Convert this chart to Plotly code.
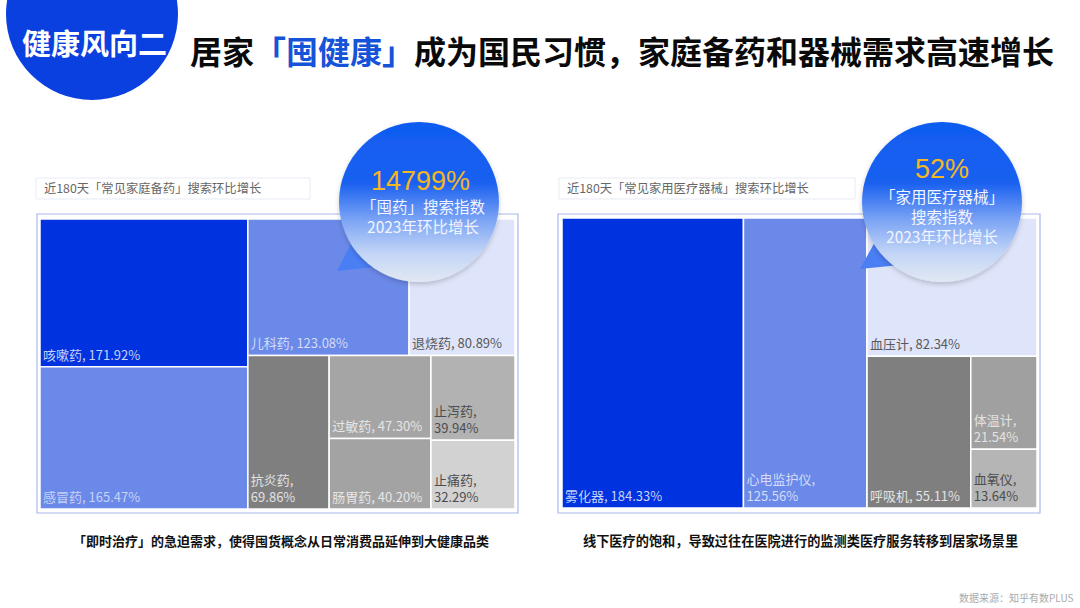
import base64
import plotly.graph_objects as go

W, H = 1080, 608
CJK = "Noto Sans CJK SC"

# left treemap
med_names = ["咳嗽药", "感冒药", "儿科药", "退烧药", "抗炎药", "过敏药", "肠胃药", "止泻药", "止痛药"]
med_values = [171.92, 165.47, 123.08, 80.89, 69.86, 47.30, 40.20, 39.94, 32.29]
med_wrap = [False, False, False, False, True, False, False, True, True]
med_colors = ["#0033df", "#6b89e8", "#6b89e8", "#dee4fa", "#7f7f7f", "#a5a5a5", "#a3a3a3", "#b2b2b2", "#d2d2d2"]
med_text_colors = ["#c6d2f6", "#c6d2f6", "#d3dcf8", "#595959", "#e2e2e2", "#e6e6e6", "#e6e6e6", "#4d4d4d", "#4d4d4d"]

# right treemap, the last four sit in one hidden group so the tiles stack like the original
dev_names = ["雾化器", "心电监护仪", "血压计", "呼吸机", "体温计", "血氧仪"]
dev_values = [184.33, 125.56, 82.34, 55.11, 21.54, 13.64]
dev_wrap = [False, True, False, False, True, True]
dev_parents = ["", "", "其他", "其他", "其他", "其他"]
dev_colors = ["#0033df", "#6b89e8", "#dee4fa", "#7f7f7f", "#a0a0a0", "#b5b5b5"]
dev_text_colors = ["#c6d2f6", "#d3dcf8", "#595959", "#e2e2e2", "#e2e2e2", "#4d4d4d"]


def px(x):
    return x / W


def py(y):
    return 1 - y / H


def cell_text(names, values, wrap):
    out = []
    for n, v, w in zip(names, values, wrap):
        out.append(f"{n},<br>{v:.2f}%" if w else f"{n}, {v:.2f}%")
    return out


def treemap(names, parents, values, text, colors, text_colors, x0, x1, y0, y1, sort=True):
    return go.Treemap(
        labels=names,
        parents=parents,
        values=values,
        branchvalues="total",
        text=text,
        textinfo="text",
        textposition="bottom left",
        sort=sort,
        marker=dict(colors=colors, line=dict(color="white", width=1.5),
                    pad=dict(t=0, l=0, r=0, b=0), depthfade=False),
        textfont=dict(family=CJK, size=13, color=text_colors),
        tiling=dict(packing="squarify", pad=0),
        pathbar=dict(visible=False),
        domain=dict(x=[px(x0), px(x1)], y=[py(y1), py(y0)]),
        hoverinfo="skip",
    )


fig = go.Figure()
fig.add_trace(treemap(med_names, [""] * len(med_names), med_values,
                      cell_text(med_names, med_values, med_wrap),
                      med_colors, med_text_colors, 40, 515, 219, 509))
group_value = sum(v for v, p in zip(dev_values, dev_parents) if p)
fig.add_trace(treemap(dev_names + ["其他"], dev_parents + [""], dev_values + [group_value],
                      cell_text(dev_names, dev_values, dev_wrap) + [""],
                      dev_colors + ["#ffffff"], dev_text_colors + ["#ffffff"],
                      562, 1037, 218, 508, sort=False))


def bubble(tail):
    # gradient circle with shadow and tail, plotly shapes have no gradient fill
    svg = f"""<svg xmlns="http://www.w3.org/2000/svg" width="200" height="200" viewBox="0 0 200 200">
<defs><linearGradient id="g" x1="0" y1="0" x2="0" y2="1">
<stop offset="0" stop-color="#0f5cf0"/><stop offset="0.38" stop-color="#1a60f0"/>
<stop offset="0.62" stop-color="#7ea6f5"/><stop offset="0.82" stop-color="#c2d5f6"/>
<stop offset="1" stop-color="#e2e8f3"/></linearGradient>
<filter id="s" x="-20%" y="-20%" width="140%" height="140%"><feDropShadow dx="0" dy="2" stdDeviation="2.5" flood-color="#000" flood-opacity="0.2"/></filter></defs>
<polygon points="{tail}" fill="#4a7ef5"/>
<circle cx="100" cy="90" r="80" fill="url(#g)" filter="url(#s)"/></svg>"""
    return "data:image/svg+xml;base64," + base64.b64encode(svg.encode()).decode()


images = []
for left, tail in [(319, "18,159 33,130 56,155"), (842, "18,157 34,128 58,153")]:
    images.append(dict(source=bubble(tail), xref="paper", yref="paper", x=px(left), y=py(112),
                       sizex=200 / W, sizey=200 / H, sizing="stretch",
                       xanchor="left", yanchor="top", layer="above"))

shapes = [
    dict(type="circle", xref="paper", yref="paper", x0=px(6), x1=px(178), y0=py(100), y1=py(-72),
         fillcolor="#0a3fe0", line_width=0),
    dict(type="rect", xref="paper", yref="paper", x0=px(37), x1=px(518), y0=py(513), y1=py(214),
         line=dict(color="#a9b8ea", width=1.2), layer="below"),
    dict(type="rect", xref="paper", yref="paper", x0=px(558), x1=px(1040), y0=py(513), y1=py(214),
         line=dict(color="#a9b8ea", width=1.2), layer="below"),
    dict(type="rect", xref="paper", yref="paper", x0=px(36), x1=px(310), y0=py(199), y1=py(178),
         line=dict(color="#e8ebf6", width=1), layer="below"),
    dict(type="rect", xref="paper", yref="paper", x0=px(559), x1=px(855), y0=py(199), y1=py(178),
         line=dict(color="#e8ebf6", width=1), layer="below"),
]


def note(x, y, text, size, color, anchor="center", weight=400, family=CJK):
    return dict(xref="paper", yref="paper", x=px(x), y=py(y), text=text, showarrow=False,
                xanchor=anchor, yanchor="middle",
                font=dict(family=family, size=size, color=color, weight=weight))


title = ('居家<span style="color:#1553d8">「囤健康」</span>成为国民习惯，家庭备药和器械需求高速增长')
annotations = [
    note(94, 42, "健康风向二", 29, "white", weight=700),
    note(188, 50, title, 32, "#0a0a0a", anchor="left", weight=700),
    note(42, 188, "近180天「常见家庭备药」搜索环比增长", 12.3, "#666666", anchor="left"),
    note(565, 188, "近180天「常见家用医疗器械」搜索环比增长", 12.3, "#666666", anchor="left"),
    note(420, 181, "14799%", 27, "#f3b722", family="Liberation Sans"),
    note(423, 216, "「囤药」搜索指数<br>2023年环比增长", 15.5, "#f2f5ff"),
    note(942, 169, "52%", 27, "#f3b722", family="Liberation Sans"),
    note(942, 216, "「家用医疗器械」<br>搜索指数<br>2023年环比增长", 15.5, "#f2f5ff"),
    note(281, 540, "「即时治疗」的急迫需求，使得囤货概念从日常消费品延伸到大健康品类", 13, "#111111", weight=700),
    note(800, 540, "线下医疗的饱和，导致过往在医院进行的监测类医疗服务转移到居家场景里", 13.2, "#111111", weight=700),
    note(1076, 597, "数据来源：知乎有数PLUS", 10, "#aaaaaa", anchor="right"),
]

fig.update_layout(
    width=W, height=H, margin=dict(l=0, r=0, t=0, b=0),
    paper_bgcolor="white", showlegend=False,
    images=images, shapes=shapes, annotations=annotations,
)

# the page has a default 8px body margin, drop it so the figure fills the window
fig.write_html("out.html", config={"displayModeBar": False},
               post_script="document.body.style.margin='0';")
